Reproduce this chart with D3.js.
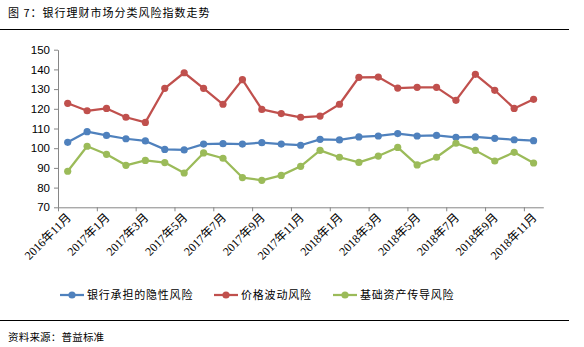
<!DOCTYPE html>
<html>
<head>
<meta charset="utf-8">
<script src="https://cdn.jsdelivr.net/npm/d3@7"></script>
<style>
  html, body { margin: 0; padding: 0; background: #fff; }
  svg { display: block; }
  .cjk { font-family: "Noto Sans CJK SC", "DejaVu Sans", sans-serif; }
</style>
</head>
<body>
<svg id="chart" width="584" height="347"></svg>
<script>
// Monthly categories, 2016-11 to 2018-11
const months = [
  "2016年11月","2016年12月","2017年1月","2017年2月","2017年3月","2017年4月",
  "2017年5月","2017年6月","2017年7月","2017年8月","2017年9月","2017年10月",
  "2017年11月","2017年12月","2018年1月","2018年2月","2018年3月","2018年4月",
  "2018年5月","2018年6月","2018年7月","2018年8月","2018年9月","2018年10月",
  "2018年11月"
];

const seriesNames = ["银行承担的隐性风险", "价格波动风险", "基础资产传导风险"];
const seriesColors = ["#4F81BD", "#C0504D", "#9BBB59"];

const hiddenRisk = [103.0,108.4,106.5,104.8,103.7,99.4,99.1,102.1,102.3,102.1,102.8,102.1,
                    101.5,104.5,104.2,105.7,106.2,107.4,106.2,106.5,105.5,105.7,105.0,104.3,103.8];
const priceRisk  = [122.8,119.0,120.2,115.7,113.1,130.4,138.3,130.4,122.3,134.8,119.7,117.6,
                    115.7,116.3,122.3,136.0,136.1,130.5,130.9,130.9,124.3,137.5,129.4,120.2,124.8];
const assetRisk  = [88.3,101.0,96.9,91.3,93.8,92.7,87.4,97.6,94.9,85.1,83.7,86.2,
                    90.8,98.9,95.4,92.8,96.0,100.4,91.5,95.4,102.5,98.9,93.5,97.9,92.5];

const yTicks = [70, 80, 90, 100, 110, 120, 130, 140, 150];

const title = "图 7：银行理财市场分类风险指数走势";
const source = "资料来源：普益标准";

const svg = d3.select("#chart");
const plot = { left: 58, right: 543.3, top: 49.7, bottom: 207.3 };
const axisColor = "#868686";

// Header and footer rules
svg.append("line").attr("x1", 0).attr("x2", 569).attr("y1", 29.5).attr("y2", 29.5)
  .attr("stroke", "#000").attr("stroke-width", 1);
svg.append("line").attr("x1", 0).attr("x2", 569).attr("y1", 320.5).attr("y2", 320.5)
  .attr("stroke", "#000").attr("stroke-width", 1);

svg.append("text").attr("class", "cjk").attr("x", 8).attr("y", 17)
  .attr("font-size", 11).attr("letter-spacing", 1).attr("fill", "#000").text(title);
svg.append("text").attr("class", "cjk").attr("x", 8).attr("y", 341)
  .attr("font-size", 10.5).attr("letter-spacing", 0.2).attr("fill", "#000").text(source);

// Scales
const x = d3.scaleBand().domain(d3.range(months.length)).range([plot.left, plot.right]).padding(0);
const xEdge = d3.scaleLinear().domain([0, months.length]).range([plot.left, plot.right]);
const y = d3.scaleLinear().domain([70, 150]).range([plot.bottom, plot.top]);
const cx = i => x(i) + x.bandwidth() / 2;

// Y axis
const yAxis = svg.append("g").attr("transform", `translate(${plot.left},0)`)
  .call(d3.axisLeft(y).tickValues(yTicks).tickSize(4).tickSizeOuter(0).tickPadding(4));
yAxis.selectAll("path, line").attr("stroke", axisColor);
yAxis.selectAll("text").attr("font-family", "'Liberation Sans', Arial, sans-serif")
  .attr("font-size", 11.5).attr("fill", "#000");

// X axis: ticks every two months at category boundaries
const xAxis = svg.append("g").attr("transform", `translate(0,${plot.bottom})`)
  .call(d3.axisBottom(xEdge).tickValues(d3.range(0, months.length, 2)).tickSize(4)
    .tickSizeOuter(0).tickFormat(""));
xAxis.selectAll("path, line").attr("stroke", axisColor);

// Rotated month labels
svg.append("g").selectAll("text")
  .data(d3.range(0, months.length, 2))
  .join("text")
  .attr("font-family", "'Liberation Serif', 'Noto Sans CJK SC', serif")
  .attr("font-size", 12)
  .attr("text-anchor", "end")
  .attr("fill", "#000")
  .attr("transform", i => `translate(${cx(i) + 4},${plot.bottom + 11}) rotate(-45)`)
  .text(i => months[i]);

// Series
const data = [hiddenRisk, priceRisk, assetRisk];
const line = d3.line().x((d, i) => cx(i)).y(d => y(d));

data.forEach((vals, k) => {
  const g = svg.append("g");
  g.append("path").datum(vals).attr("d", line)
    .attr("fill", "none").attr("stroke", seriesColors[k])
    .attr("stroke-width", 2.25).attr("stroke-linejoin", "round");
  g.selectAll("circle").data(vals).join("circle")
    .attr("cx", (d, i) => cx(i)).attr("cy", d => y(d)).attr("r", 3.6)
    .attr("fill", seriesColors[k]);
});

// Legend
const legendItems = [
  { x: 60, name: seriesNames[0], color: seriesColors[0] },
  { x: 214, name: seriesNames[1], color: seriesColors[1] },
  { x: 333, name: seriesNames[2], color: seriesColors[2] }
];
const lg = svg.append("g").attr("transform", "translate(0,295)");
legendItems.forEach(it => {
  lg.append("line").attr("x1", it.x).attr("x2", it.x + 24).attr("y1", 0).attr("y2", 0)
    .attr("stroke", it.color).attr("stroke-width", 2.25);
  lg.append("circle").attr("cx", it.x + 12).attr("cy", 0).attr("r", 3.6).attr("fill", it.color);
  lg.append("text").attr("class", "cjk").attr("x", it.x + 27).attr("y", 4)
    .attr("font-size", 11).attr("letter-spacing", 0.8).attr("fill", "#000").text(it.name);
});
</script>
</body>
</html>
